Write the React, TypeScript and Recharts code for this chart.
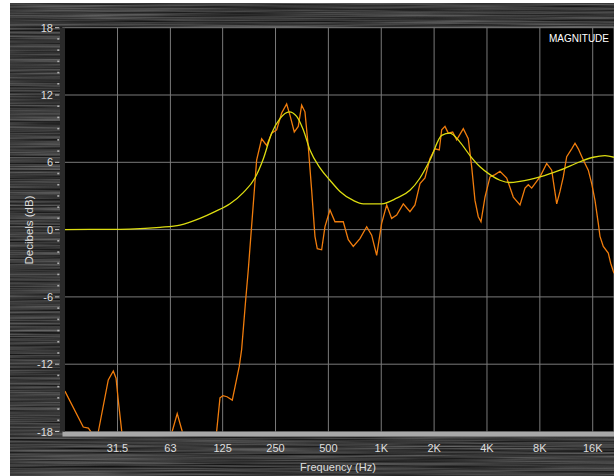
import { LineChart, Line, XAxis, YAxis, CartesianGrid } from 'recharts'

const xTicks = [31.5, 63, 125, 250, 500, 1000, 2000, 4000, 8000, 16000]
const xTickLabels = ['31.5', '63', '125', '250', '500', '1K', '2K', '4K', '8K', '16K']
const yTicks = [-18, -17, -16, -15, -14, -13, -12, -11, -10, -9, -8, -7, -6, -5, -4, -3, -2, -1, 0,
  1, 2, 3, 4, 5, 6, 7, 8, 9, 10, 11, 12, 13, 14, 15, 16, 17, 18]
const yGrid = [18, 12, 6, 0, -6, -12]

// measured response (orange)
const measFreq = [15.8, 20.1, 21.5, 22.4, 23.3, 24.5, 27.9, 29.8, 30.9, 31.8,
  33.3, 45, 64.5, 68.9, 73.6, 93, 115.5, 120.7, 125.5, 132.3,
  141.8, 155.4, 160.3, 169.0, 174.9, 195.2, 208.4, 222.6, 237.7,
  253.8, 271, 289.3, 302.1, 319.7, 336.9, 352.2, 367.8, 384.1, 401.6,
  419.3, 432.2, 457.8, 478.1, 510.4, 545.1, 607.7, 648.9, 692.9, 756.5,
  826.1, 882, 941.7, 1005, 1074, 1146, 1224, 1335, 1457, 1556,
  1662, 1774, 1895, 2023, 2140, 2209, 2306, 2408, 2551, 2689,
  2932, 3130, 3273, 3418, 3569, 3698, 3897, 4161, 4442, 4743,
  5179, 5648, 6167, 6585, 6876, 7188, 7506, 8015, 8751, 9344,
  9978, 10419, 10879, 11376, 12148, 12684, 13244, 14139, 15099, 15787,
  16485, 17214, 17601, 18380, 19626, 20255, 21151]
const measDb = [-14.4, -17.6, -17.7, -18.1, -20, -18, -13.4, -12.6, -13.25, -15.2,
  -18, -22, -18, -16.4, -18, -22, -18, -15.0, -14.8, -14.9,
  -15.2, -12.2, -10.7, -6.3, -3.6, 6.2, 8.1, 7.5, 8.6,
  8.9, 10.4, 11.2, 10.2, 8.7, 9.2, 11.1, 10.5, 7.4, 3.5,
  -0.6, -1.7, -1.8, 0.26, 1.75, 0.7, 0.7, -0.9, -1.5, -0.8,
  0.26, -0.5, -2.3, 0.56, 2.2, 1.0, 1.3, 2.3, 1.6, 2.2,
  4.1, 4.6, 6.35, 7.2, 7.1, 8.9, 9.2, 8.6, 8.7, 8.0,
  9.0, 8.1, 5.6, 2.6, 1.15, 0.7, 2.9, 4.7, 4.9, 5.2,
  4.6, 2.9, 2.2, 3.7, 4.0, 3.7, 4.1, 4.7, 5.9, 5.3,
  2.3, 3.4, 4.7, 6.5, 7.2, 7.7, 7.2, 6.2, 5.3, 4.1,
  2.6, 0.56, -0.6, -1.5, -2.1, -3.0, -3.9]

// smoothed target curve (yellow)
const targetFreq = [15.3, 25.0, 37.1, 55.0, 71.4, 92.8, 113, 137.6, 163.8, 190.9,
  212.9, 237.7, 265, 299.4, 329.8, 359.7, 392.8, 447.7, 510.4, 582,
  692.9, 790, 1005, 1224, 1457, 1662, 1895, 2209, 2462, 2807,
  3201, 3649, 4161, 4743, 5409, 6167, 8015, 10419, 13543, 16121,
  18794, 21151]
const targetDb = [0, 0.02, 0.05, 0.2, 0.4, 1.0, 1.6, 2.3, 3.3, 4.6,
  6.3, 8.6, 9.9, 10.5, 10.1, 8.9, 7.1, 5.5, 4.4, 3.4,
  2.6, 2.3, 2.3, 2.8, 3.5, 4.6, 6.2, 8.4, 8.6, 7.8,
  6.6, 5.6, 4.9, 4.4, 4.2, 4.3, 4.7, 5.3, 6.05, 6.45,
  6.6, 6.45]

const measData = measFreq.map((f, i) => ({ f, db: measDb[i] }))
const targetData = targetFreq.map((f, i) => ({ f, db: targetDb[i] }))

const font = '"Liberation Sans", Arial, sans-serif'

function YTick(props: any) {
  const { x, y, payload } = props
  const v = payload.value
  const major = v % 6 === 0
  return (
    <g>
      <line x1={x - (major ? 7.5 : 5.2)} x2={x - 3.2} y1={y} y2={y}
        stroke={major ? '#c8c8c8' : '#b4b4b4'} strokeWidth={major ? 1 : 1.6} />
      {major && (
        <text x={x - 9.5} y={y + 4} textAnchor="end" fill="#dedede" fontSize={11} fontFamily={font}>
          {v}
        </text>
      )}
    </g>
  )
}

export default function App() {
  return (
    <div style={{ position: 'absolute', left: 10, top: 3, width: 604, height: 473, background: '#3a3a3a' }}>
      {/* brushed metal backdrop */}
      <svg width={604} height={473} style={{ position: 'absolute', left: 0, top: 0 }}>
        <filter id="brushed" x="0" y="0" width="100%" height="100%" colorInterpolationFilters="sRGB">
          <feTurbulence type="fractalNoise" baseFrequency="0.006 0.55" numOctaves={3} seed={7} />
          <feColorMatrix type="matrix" values="0.5 0 0 0 -0.02  0.5 0 0 0 -0.02  0.5 0 0 0 -0.02  0 0 0 0 1" />
        </filter>
        <rect width={604} height={473} filter="url(#brushed)" />
      </svg>
      <div style={{ position: 'absolute', left: 0, top: 0 }}>
        <LineChart width={604} height={473} margin={{ top: 24.7, right: 0, bottom: 0, left: 0 }}>
          <CartesianGrid stroke="#7a7a7a" fill="#000" fillOpacity={1} horizontalValues={yGrid} />
          <XAxis
            dataKey="f"
            type="number"
            scale="log"
            domain={[15.31, 21150]}
            allowDataOverflow
            ticks={xTicks}
            interval={0}
            tickFormatter={(v: number) => xTickLabels[xTicks.indexOf(v)]}
            tickLine={false}
            tickSize={0}
            tickMargin={12.7}
            height={44.5}
            axisLine={{ stroke: '#a8a8a8', strokeWidth: 5, transform: 'translate(0 2.5)' }}
            tick={{ fill: '#dedede', fontSize: 11, fontFamily: font }}
          />
          <YAxis
            type="number"
            domain={[-18, 18]}
            allowDataOverflow
            ticks={yTicks}
            interval={0}
            width={52.5}
            tickLine={false}
            tickSize={0}
            tickMargin={0}
            axisLine={{ stroke: '#2a2a2a', strokeWidth: 5 }}
            tick={<YTick />}
          />
          <Line data={measData} dataKey="db" type="linear" stroke="#f07c0c" strokeWidth={1.3} dot={false} isAnimationActive={false} />
          <Line data={targetData} dataKey="db" type="monotone" stroke="#dcdc10" strokeWidth={1.3} dot={false} isAnimationActive={false} />
          <text x={19} y={227} transform="rotate(-90 19 227)" textAnchor="middle" dominantBaseline="central" fill="#dedede" fontSize={11.5} fontFamily={font}>
            Decibels (dB)
          </text>
          <text x={328} y={468} textAnchor="middle" fill="#dedede" fontSize={11} fontFamily={font}>
            Frequency (Hz)
          </text>
          <text x={599} y={38.7} textAnchor="end" fill="#ffffff" fontSize={10} fontFamily={font}>
            MAGNITUDE
          </text>
        </LineChart>
      </div>
    </div>
  )
}
